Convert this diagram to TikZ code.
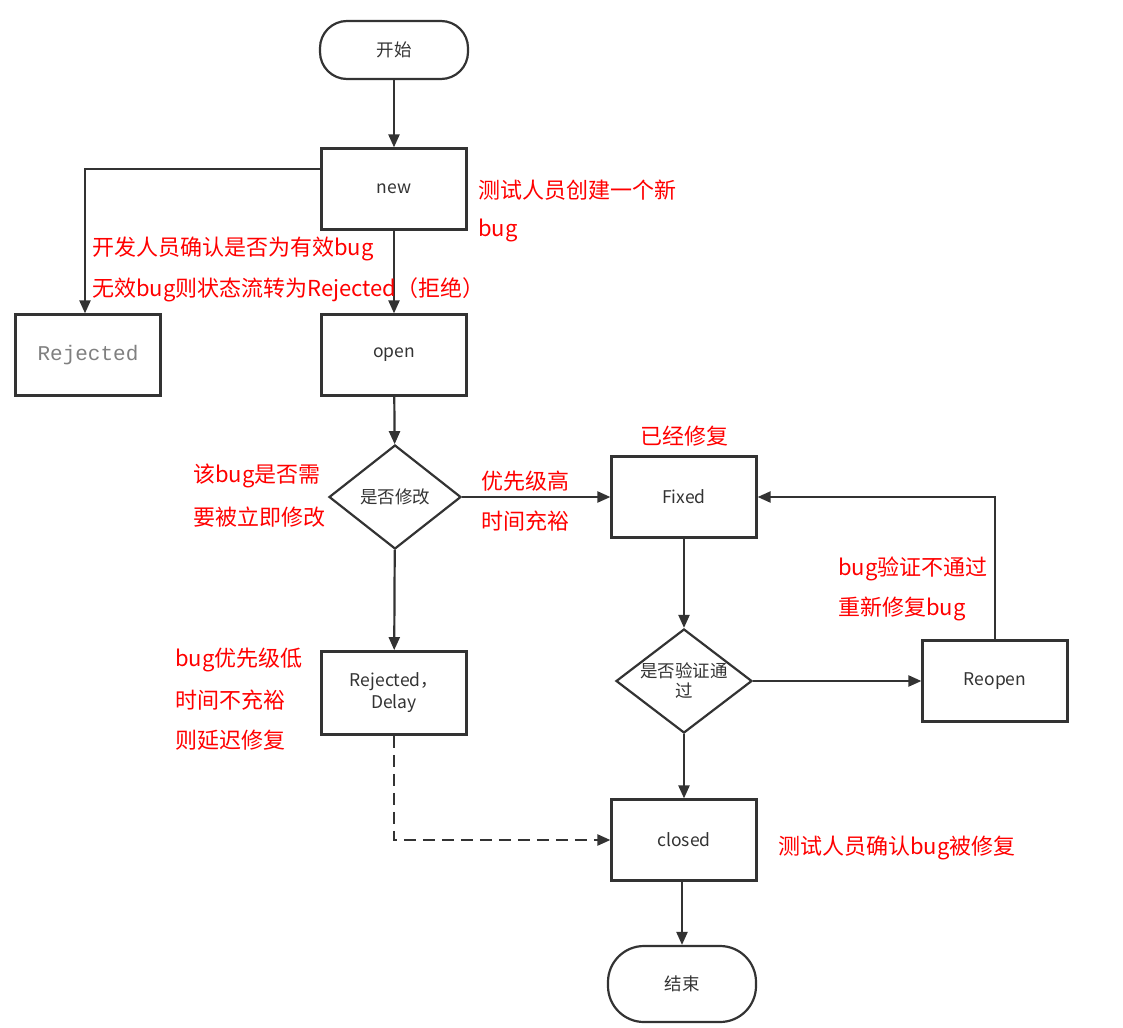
\documentclass[tikz,border=0pt]{standalone}
\usepackage{fontspec}
\setmainfont{Noto Sans CJK SC}
\newfontfamily\monof{Liberation Mono}
\usetikzlibrary{shapes.geometric,arrows.meta}
\definecolor{ln}{HTML}{333333}
\definecolor{tx}{HTML}{333333}
\begin{document}
\begin{tikzpicture}[x=1pt,y=-1pt,
  box/.style={draw=ln,line width=2.2pt,minimum width=145pt,minimum height=81pt,inner sep=0pt,font=\fontsize{17.5}{22}\selectfont,text=tx,align=center},
  term/.style={box,rounded corners=27pt,minimum width=148pt},
  dia/.style={draw=ln,line width=2.2pt,diamond,aspect=1.3,inner sep=0pt,font=\fontsize{17.5}{20}\selectfont,text=tx,align=center},
  arr/.style={draw=ln,line width=2.2pt,-{Triangle[length=13pt,width=11pt]}},
  lab/.style={text=red,font=\fontsize{22}{24}\selectfont,anchor=west,inner sep=0pt}]
\useasboundingbox (0,0) rectangle (1123,1027);
\node[term,minimum height=58pt] (start) at (394,50) {开始};
\node[box] (new) at (394,189) {new};
\node[box] (rej) at (88,355) {\monof\color{gray}\fontsize{21}{22}\selectfont Rejected};
\node[box] (open) at (394,355) {open};
\node[dia,minimum width=132pt,minimum height=104pt] (d1) at (395,497) {是否修改};
\node[box] (fixed) at (684,497) {Fixed};
\node[dia,minimum width=136pt,minimum height=104pt] (d2) at (684,681) {是否验证通\\过};
\node[box] (reopen) at (995,681) {Reopen};
\node[box,line width=2.8pt,minimum height=83pt] (rd) at (394,693) {Rejected，\\Delay};
\node[box] (closed) at (684,840) {closed};
\node[term,minimum height=76pt,rounded corners=36pt] (end) at (682,984) {结束};
\coordinate (c1) at (85,169);
\coordinate (c2) at (995,497);
\coordinate (c3) at (394,840);
\draw[arr] (start) -- (new);
\draw[arr] (new.west |- c1) -- (c1) -- (rej.north -| c1);
\draw[arr] (new) -- (open);
\draw[arr] (open) -- (d1);
\draw[arr] (d1) -- (fixed);
\draw[arr] (d1) -- (rd);
\draw[arr] (fixed) -- (d2);
\draw[arr] (d2) -- (reopen);
\draw[arr] (reopen) -- (c2) -- (fixed);
\draw[arr] (d2) -- (closed);
\draw[arr,dashed,dash pattern=on 12pt off 7pt] (rd) -- (c3) -- (closed);
\draw[arr] (closed.south -| end) -- (end);
\node[lab] (l1) at (478,190) {测试人员创建一个新};
\node[lab] (l2) at (478,230) {bug};
\node[lab] (l3) at (92,249) {开发人员确认是否为有效bug};
\node[lab] (l4) at (92,290) {无效bug则状态流转为Rejected（拒绝）};
\node[lab] (l5) at (640,436) {已经修复};
\node[lab] (l6) at (193,476) {该bug是否需};
\node[lab] (l7) at (193,517) {要被立即修改};
\node[lab] (l8) at (481,481) {优先级高};
\node[lab] (l9) at (481,521) {时间充裕};
\node[lab] (l10) at (838,569) {bug验证不通过};
\node[lab] (l11) at (838,609) {重新修复bug};
\node[lab] (l12) at (175,660) {bug优先级低};
\node[lab] (l13) at (175,700) {时间不充裕};
\node[lab] (l14) at (175,740) {则延迟修复};
\node[lab] (l15) at (778,848) {测试人员确认bug被修复};
\end{tikzpicture}
\end{document}
